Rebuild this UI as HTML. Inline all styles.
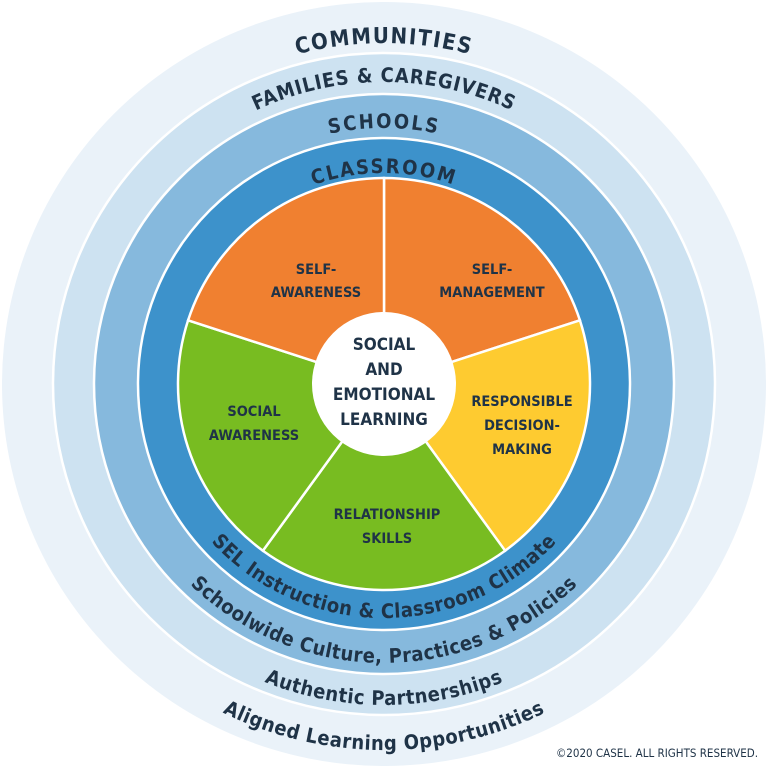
<!DOCTYPE html>
<html><head><meta charset="utf-8"><style>
html,body{margin:0;padding:0;background:#fff;}
svg{display:block;}
text{font-family:"DejaVu Sans Condensed","Liberation Sans",sans-serif;font-weight:bold;fill:#1f3347;}
</style></head><body>
<svg width="768" height="768" viewBox="0 0 768 768" xmlns="http://www.w3.org/2000/svg">
<defs>
<path id="t1" d="M43,384 A341,341 0 0 1 725,384"/>
<path id="t2" d="M82,384 A302,302 0 0 1 686,384"/>
<path id="t3" d="M128,384 A256,256 0 0 1 640,384"/>
<path id="t4" d="M173,384 A211,211 0 0 1 595,384"/>
<path id="b1" d="M150,384 A234,234 0 0 0 618,384"/>
<path id="b2" d="M105,384 A279,279 0 0 0 663,384"/>
<path id="b3" d="M63,384 A321,321 0 0 0 705,384"/>
<path id="b4" d="M18,384 A366,366 0 0 0 750,384"/>
</defs>
<circle cx="384" cy="384" r="382" fill="#eaf2f9"/>
<circle cx="384" cy="384" r="331" fill="#cde2f1" stroke="#fff" stroke-width="2.5"/>
<circle cx="384" cy="384" r="290" fill="#86b9dd" stroke="#fff" stroke-width="2.5"/>
<circle cx="384" cy="384" r="246" fill="#3d92cb" stroke="#fff" stroke-width="2.5"/>
<g stroke="#fff" stroke-width="2.5">
<path d="M384,384 L384,178 A206,206 0 0 1 579.9,320.3 Z" fill="#f08030"/>
<path d="M384,384 L579.9,320.3 A206,206 0 0 1 505.1,550.7 Z" fill="#fecb30"/>
<path d="M384,384 L505.1,550.7 A206,206 0 0 1 262.9,550.7 Z" fill="#78bc21"/>
<path d="M384,384 L262.9,550.7 A206,206 0 0 1 188.1,320.3 Z" fill="#78bc21"/>
<path d="M384,384 L188.1,320.3 A206,206 0 0 1 384,178 Z" fill="#f08030"/>
</g>
<circle cx="384" cy="384" r="72" fill="#fff"/>
<g font-size="22" letter-spacing="1.5">
<text><textPath href="#t1" startOffset="50%" text-anchor="middle">COMMUNITIES</textPath></text>
<text font-size="20" letter-spacing="0.8"><textPath href="#t2" startOffset="50%" text-anchor="middle">FAMILIES &amp; CAREGIVERS</textPath></text>
<text font-size="20" letter-spacing="2"><textPath href="#t3" startOffset="50%" text-anchor="middle">SCHOOLS</textPath></text>
<text font-size="20" letter-spacing="2"><textPath href="#t4" startOffset="50%" text-anchor="middle">CLASSROOM</textPath></text>
</g>
<g font-size="20" letter-spacing="0.5">
<text><textPath href="#b1" startOffset="50%" text-anchor="middle">SEL Instruction &amp; Classroom Climate</textPath></text>
<text><textPath href="#b2" startOffset="50%" text-anchor="middle">Schoolwide Culture, Practices &amp; Policies</textPath></text>
<text><textPath href="#b3" startOffset="50%" text-anchor="middle">Authentic Partnerships</textPath></text>
<text><textPath href="#b4" startOffset="50%" text-anchor="middle">Aligned Learning Opportunities</textPath></text>
</g>
<g font-size="14.5" text-anchor="middle">
<text x="316" y="274">SELF-</text><text x="316" y="297">AWARENESS</text>
<text x="492" y="274">SELF-</text><text x="492" y="297">MANAGEMENT</text>
<text x="522" y="406">RESPONSIBLE</text><text x="522" y="430">DECISION-</text><text x="522" y="454">MAKING</text>
<text x="254" y="416">SOCIAL</text><text x="254" y="440">AWARENESS</text>
<text x="387" y="519">RELATIONSHIP</text><text x="387" y="543">SKILLS</text>
</g>
<g font-size="17" text-anchor="middle">
<text x="384" y="350">SOCIAL</text><text x="384" y="375">AND</text>
<text x="384" y="400">EMOTIONAL</text><text x="384" y="425">LEARNING</text>
</g>
<text x="758" y="757" font-size="11.5" text-anchor="end" style="font-weight:normal">©2020 CASEL. ALL RIGHTS RESERVED.</text>
</svg>
</body></html>
